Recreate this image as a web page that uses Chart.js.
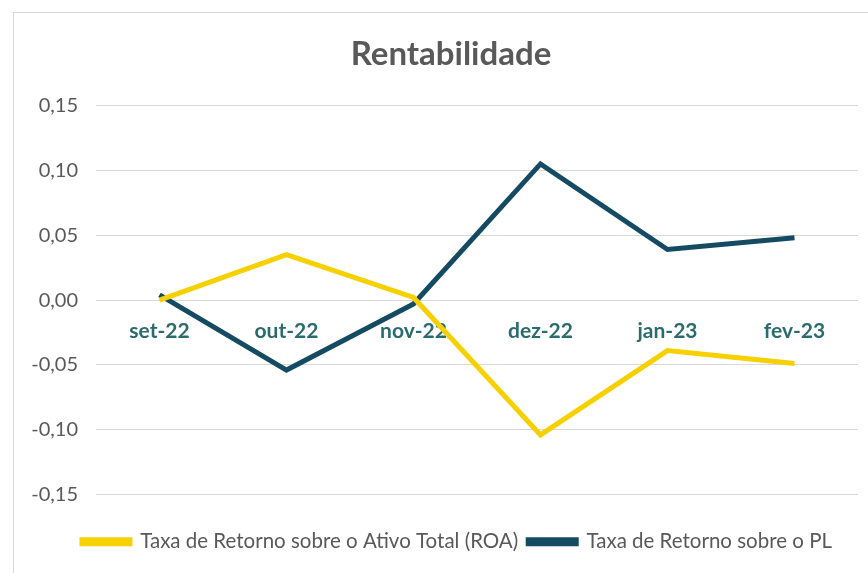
<!DOCTYPE html>
<html>
<head>
<meta charset="utf-8">
<script src="https://cdn.jsdelivr.net/npm/chart.js@4/dist/chart.umd.min.js"></script>
<style>
html,body{margin:0;padding:0;background:#fff;width:868px;height:573px;overflow:hidden;}
#box{position:absolute;left:13px;top:12px;width:900px;height:561px;border-left:1px solid #d9d9d9;border-top:1px solid #d9d9d9;box-sizing:border-box;}
canvas{display:block;}
</style>
</head>
<body>
<div id="box"><canvas id="c" width="880" height="560"></canvas></div>
<script>
const categories = ["set-22","out-22","nov-22","dez-22","jan-23","fev-23"];
const roaValues = [0.000, 0.035, 0.002, -0.104, -0.039, -0.049];
const plValues = [0.004, -0.054, -0.003, 0.105, 0.039, 0.048];
const seriesNames = ["Taxa de Retorno sobre o Ativo Total (ROA)", "Taxa de Retorno sobre o PL"];
const chartTitle = "Rentabilidade";

const FONT = "Lato, 'Open Sans', sans-serif";
const EXTRA = 27;
const legendGap = {
  id: 'legendGap',
  beforeInit(chart) {
    const lg = chart.legend;
    const f = lg.fit;
    lg.fit = function () { f.call(this); this.height += EXTRA; };
  },
  afterLayout(chart) {
    const lg = chart.legend;
    lg.top += EXTRA; lg.bottom += EXTRA;
    lg.left += 21; lg.right += 21;
    const t = chart.titleBlock;
    if (t) { t.left += 15; t.right += 15; }
  }
};

new Chart(document.getElementById('c'), {
  type: 'line',
  data: {
    labels: categories,
    datasets: [
      {label: seriesNames[0], data: roaValues, borderColor: '#F7D000', backgroundColor: '#F7D000', borderWidth: 5, pointRadius: 0, tension: 0},
      {label: seriesNames[1], data: plValues, borderColor: '#144B63', backgroundColor: '#144B63', borderWidth: 5, pointRadius: 0, tension: 0}
    ]
  },
  plugins: [legendGap],
  options: {
    responsive: false,
    animation: false,
    layout: {padding: {left: 0, right: 36, top: 0, bottom: 11}},
    plugins: {
      title: {display: true, text: chartTitle, color: '#595959', font: {family: FONT, size: 33, weight: 'bold'}, padding: {top: 22, bottom: 31}},
      legend: {
        position: 'bottom',
        labels: {color: '#595959', font: {family: FONT, size: 20.5}, boxWidth: 48, boxHeight: 4, padding: 10}
      },
      tooltip: {enabled: false}
    },
    scales: {
      x: {
        position: {y: 0},
        offset: true,
        grid: {display: false, drawTicks: false},
        border: {display: false},
        ticks: {color: '#2A6B6E', font: {family: FONT, size: 21, weight: 'bold'}, padding: 19}
      },
      y: {
        min: -0.15, max: 0.15,
        afterFit: s => { s.width = 82; },
        grid: {color: '#D9D9D9', drawTicks: false},
        border: {display: false},
        ticks: {stepSize: 0.05, color: '#595959', font: {family: FONT, size: 20}, padding: 18,
          callback: v => v.toFixed(2).replace('.', ',')}
      }
    }
  }
});
</script>
</body>
</html>
